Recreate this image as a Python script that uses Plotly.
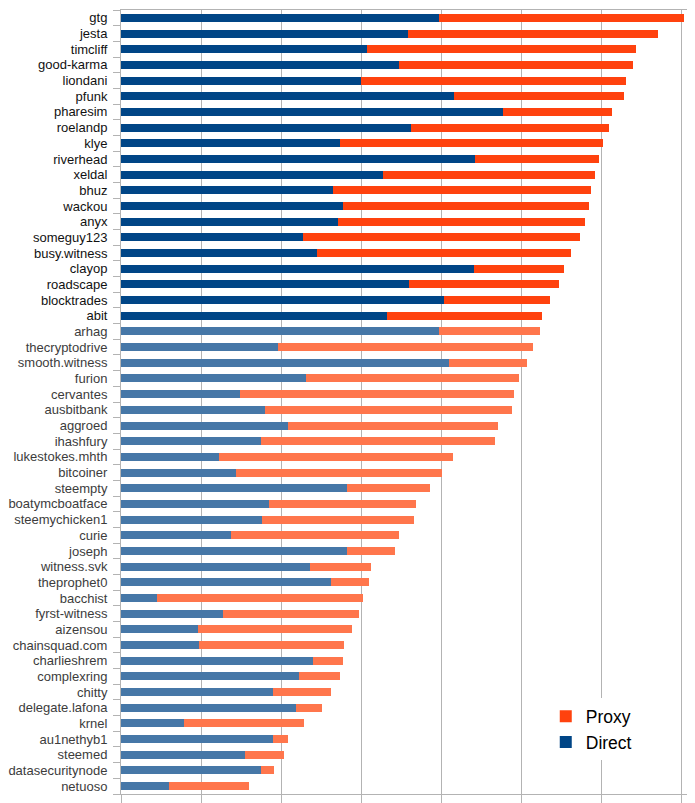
import plotly.graph_objects as go

witnesses = ["gtg", "jesta", "timcliff", "good-karma", "liondani", "pfunk", "pharesim", "roelandp",
             "klye", "riverhead", "xeldal", "bhuz", "wackou", "anyx", "someguy123", "busy.witness",
             "clayop", "roadscape", "blocktrades", "abit", "arhag", "thecryptodrive", "smooth.witness",
             "furion", "cervantes", "ausbitbank", "aggroed", "ihashfury", "lukestokes.mhth", "bitcoiner",
             "steempty", "boatymcboatface", "steemychicken1", "curie", "joseph", "witness.svk",
             "theprophet0", "bacchist", "fyrst-witness", "aizensou", "chainsquad.com", "charlieshrem",
             "complexring", "chitty", "delegate.lafona", "krnel", "au1nethyb1", "steemed",
             "datasecuritynode", "netuoso"]

direct = [39.75, 35.88, 30.71, 34.75, 29.96, 41.63, 47.75, 36.25, 27.38, 44.25,
          32.79, 26.5, 27.79, 27.16, 22.79, 24.5, 44.16, 36.04, 40.38, 33.25,
          39.79, 19.63, 40.96, 23.13, 14.84, 18.04, 20.91, 17.46, 12.25, 14.34,
          28.25, 18.5, 17.63, 13.75, 28.25, 23.63, 26.29, 4.5, 12.79, 9.59,
          9.79, 24.0, 22.29, 19.0, 21.84, 7.88, 19.0, 15.5, 17.54, 6.0]

proxy = [30.66, 31.25, 33.7, 29.21, 33.13, 21.29, 13.63, 24.79, 32.84, 15.5,
         26.5, 32.21, 30.71, 30.88, 34.55, 31.75, 11.21, 18.71, 13.25, 19.41,
         12.55, 31.88, 9.83, 26.63, 34.25, 30.88, 26.25, 29.33, 29.21, 25.83,
         10.41, 18.38, 19.04, 20.96, 6.0, 7.59, 4.75, 25.71, 16.93, 19.25,
         18.13, 3.71, 5.05, 7.29, 3.29, 15.04, 1.84, 4.88, 1.55, 9.96]

n_active = 20  # top 20 drawn in the strong colours

dir_colors = ["#004586" if i < n_active else "#4677a7" for i in range(len(witnesses))]
prx_colors = ["#ff420e" if i < n_active else "#ff764c" for i in range(len(witnesses))]
tick_text = [f'<span style="color:{"#111111" if i < n_active else "#3c3c3c"}">{w}</span>'
             for i, w in enumerate(witnesses)]

fig = go.Figure()
fig.add_trace(go.Bar(y=witnesses, x=direct, orientation="h", name="Direct",
                     marker=dict(color=dir_colors, line=dict(width=0)), width=0.51))
fig.add_trace(go.Bar(y=witnesses, x=proxy, orientation="h", name="Proxy",
                     marker=dict(color=prx_colors, line=dict(width=0)), width=0.51))

grid_col = "#b3b3b3"
fig.update_layout(
    barmode="stack",
    width=687, height=795,
    margin=dict(l=113, r=0, t=2, b=9, autoexpand=False),
    paper_bgcolor="white", plot_bgcolor="white",
    font=dict(family="Liberation Sans, Arial, sans-serif", size=13, color="#111111"),
    showlegend=True,
    legend=dict(traceorder="reversed", x=0.740, xanchor="left", y=0.122, yanchor="top",
                bgcolor="white", font=dict(size=17.5, color="#000000"),
                itemsizing="constant", tracegroupgap=0),
    xaxis=dict(range=[0, 71.75], dtick=10, tick0=0, showgrid=True, gridcolor=grid_col, gridwidth=1,
               showticklabels=False, ticks="outside", ticklen=9, tickcolor=grid_col,
               showline=True, linecolor=grid_col, linewidth=1, mirror=True, zeroline=False,
               fixedrange=True),
    yaxis=dict(autorange="reversed", tickmode="array", tickvals=witnesses, ticktext=tick_text,
               ticks="outside", tickson="boundaries", ticklen=7, tickcolor=grid_col,
               ticklabelstandoff=10,
               showline=True, linecolor=grid_col, linewidth=1, showgrid=False,
               tickfont=dict(size=13), fixedrange=True),
)

fig.write_html("out.html")
